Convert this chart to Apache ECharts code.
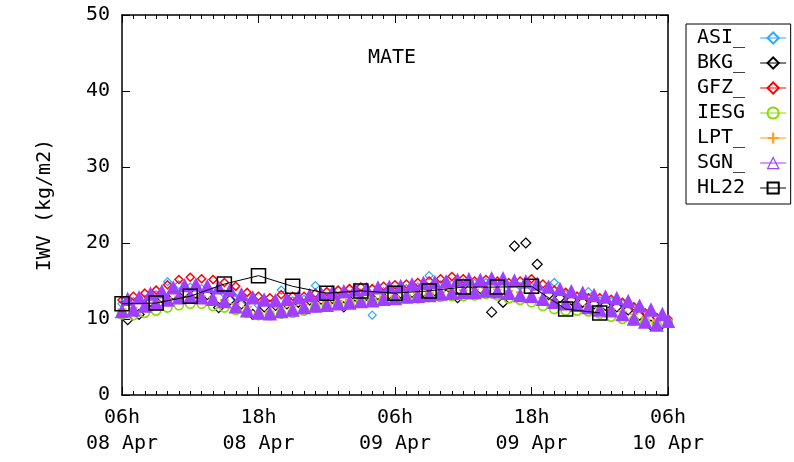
<!DOCTYPE html>
<html>
<head>
<meta charset="utf-8">
<script src="https://cdn.jsdelivr.net/npm/echarts@6/dist/echarts.min.js"></script>
<style>html,body{margin:0;padding:0;background:#fff}#c{width:794px;height:462px}</style>
</head>
<body>
<div id="c"></div>
<script>
// Time axis: hours after 06h 08 Apr
const xTickLabels = ['06h\n08 Apr', '18h\n08 Apr', '06h\n09 Apr', '18h\n09 Apr', '06h\n10 Apr'];
const seriesNames = ['ASI_', 'BKG_', 'GFZ_', 'IESG', 'LPT_', 'SGN_', 'HL22'];
const seriesColors = ['#2aa8ff', '#000000', '#ff0000', '#88dd00', '#ffa020', '#9f3fff', '#000000'];

// hourly, 0..48 h
const asi = [12.0,12.3,12.6,13.2,14.9,14.5,14.2,14.0,13.6,13.3,12.8,12.2,11.8,12.0,13.8,12.4,12.6,14.4,13.0,13.0,13.2,13.4,10.5,13.6,13.8,14.0,14.2,15.7,14.5,14.6,14.8,14.7,14.8,14.6,14.4,14.3,14.2,13.7,14.8,13.2,13.0,13.6,12.4,12.3,12.0,11.4,10.8,10.2,9.8];
// half-past each hour, 0.5..47.5 h
const bkg = [9.9,10.6,12.3,12.8,13.2,13.5,13.4,13.2,11.5,12.5,12.0,10.6,11.6,11.8,12.0,12.2,12.5,12.6,12.7,11.6,13.0,13.1,13.2,13.3,13.4,13.5,13.6,13.7,13.2,12.8,13.8,14.0,10.9,12.2,19.6,20.0,17.2,13.2,12.8,12.5,12.2,12.0,11.8,11.6,11.2,10.5,9.2,9.4];
// hourly, 0..48 h
const gfz = [12.5,13.0,13.4,13.8,14.5,15.2,15.5,15.3,15.2,14.8,14.3,13.5,13.0,12.8,13.2,13.0,13.0,13.4,13.6,13.8,14.0,14.2,14.0,14.3,14.5,14.6,14.8,15.0,15.3,15.6,15.3,15.0,15.2,15.0,14.8,15.0,15.3,14.6,13.8,13.5,13.0,12.8,12.8,12.6,12.2,11.6,10.8,10.2,10.0];
const iesg = [10.6,10.5,10.8,11.1,11.5,11.8,12.0,12.0,11.7,11.5,11.2,10.8,10.5,10.5,10.7,10.8,11.1,11.5,11.8,11.9,12.0,12.3,12.3,12.5,12.5,12.7,12.7,12.9,12.9,13.0,13.0,13.1,13.3,13.1,12.7,12.5,12.2,11.7,11.3,11.1,11.1,11.0,10.7,10.3,10.0,9.8,9.6,9.3,9.5];
const lpt = [11.3,11.5,12.0,12.3,12.8,13.0,13.0,13.0,12.8,12.5,12.0,11.6,10.8,11.0,11.5,11.7,11.9,12.1,12.2,12.4,12.5,12.7,12.8,13.0,13.0,13.2,13.4,13.5,13.6,13.8,13.8,13.9,14.0,13.9,13.7,13.5,13.4,12.8,12.4,12.0,11.9,11.8,11.5,11.3,11.0,10.6,10.2,9.8,9.6];
// every 30 min, 0..48 h
const sgn = [11.0,12.6,11.2,12.8,11.7,13.3,12.0,13.6,12.5,14.1,12.8,14.4,12.9,14.5,12.8,14.3,12.6,14.1,12.3,13.8,11.6,13.2,11.1,12.8,10.8,12.5,10.7,12.4,11.0,12.6,11.2,12.8,11.5,13.1,11.7,13.3,11.8,13.5,12.0,13.6,12.1,13.8,12.3,13.9,12.4,14.1,12.6,14.2,12.7,14.3,12.9,14.5,13.0,14.7,13.1,14.8,13.3,14.9,13.4,15.1,13.5,15.2,13.5,15.1,13.7,15.3,13.6,15.3,13.4,15.0,13.1,14.9,13.0,14.6,12.6,14.2,12.2,13.9,12.0,13.6,11.8,13.4,11.5,13.1,11.2,12.9,11.1,12.7,10.6,12.3,10.0,11.7,9.6,11.2,9.2,10.6,9.7];
// every 3 h, 0..42 h
const hl22 = [12.0,12.1,13.0,14.6,15.7,14.3,13.4,13.7,13.4,13.7,14.2,14.2,14.3,11.3,10.8];

const pairs = (vals, step, offset) => vals.map((v, i) => [offset + i * step, v]);

const FONT = 'DejaVu Sans Mono';
const openStyle = (c, w) => ({ color: 'rgba(0,0,0,0)', borderColor: c, borderWidth: w });
const plusPath = 'path://M4,0H6V4H10V6H6V10H4V6H0V4H4Z';

function dense(name, data, symbol, size, itemStyle, z) {
  return {
    name, type: 'line', data, symbol, symbolSize: size, showAllSymbol: true,
    lineStyle: { opacity: 0 }, itemStyle, z, silent: true
  };
}

const series = [
  dense('ASI_', pairs(asi, 1, 0), 'diamond', 8, openStyle(seriesColors[0], 1.2), 2),
  dense('BKG_', pairs(bkg, 1, 0.5), 'diamond', 10, openStyle(seriesColors[1], 1.2), 2),
  dense('GFZ_', pairs(gfz, 1, 0), 'diamond', 8, openStyle(seriesColors[2], 1.5), 2),
  dense('IESG', pairs(iesg, 1, 0), 'circle', 9, openStyle(seriesColors[3], 1.6), 2),
  dense('LPT_', pairs(lpt, 1, 0), plusPath, 9, { color: seriesColors[4] }, 2),
  dense('SGN_', pairs(sgn, 0.5, 0), 'triangle', 12,
        { color: seriesColors[5], borderColor: seriesColors[5], borderWidth: 1.5 }, 2),
  {
    name: 'HL22', type: 'line', data: pairs(hl22, 3, 0), symbol: 'rect', symbolSize: 14,
    showAllSymbol: true, lineStyle: { color: '#000', width: 1 },
    itemStyle: openStyle('#000', 1.5), z: 3, silent: true
  }
];

const axisLineStyle = { color: '#000', width: 1.5 };
const xBase = {
  type: 'value', min: 0, max: 48, interval: 12,
  axisLine: { show: true, onZero: false, lineStyle: axisLineStyle },
  axisTick: { show: true, inside: true, length: 8, lineStyle: { color: '#000', width: 1 } },
  minorTick: { show: true, splitNumber: 12, length: 4, lineStyle: { color: '#000', width: 1 } },
  splitLine: { show: false }, minorSplitLine: { show: false }
};
const yBase = {
  type: 'value', min: 0, max: 50, interval: 10,
  axisLine: { show: true, onZero: false, lineStyle: axisLineStyle },
  axisTick: { show: true, inside: true, length: 8, lineStyle: { color: '#000', width: 1 } },
  splitLine: { show: false }
};

const option = {
  animation: false,
  backgroundColor: '#fff',
  textStyle: { fontFamily: FONT },
  title: {
    text: 'MATE', left: 363, top: 43,
    textStyle: { fontFamily: FONT, fontSize: 20, fontWeight: 'normal', color: '#000' }
  },
  grid: { left: 122, right: 126, top: 15, bottom: 67 },
  xAxis: [
    Object.assign({}, xBase, {
      position: 'bottom',
      axisLabel: {
        show: true, margin: 10, fontFamily: FONT, fontSize: 20, color: '#000', lineHeight: 26,
        formatter: v => xTickLabels[Math.round(v / 12)]
      }
    }),
    Object.assign({}, xBase, { position: 'top', axisLabel: { show: false } })
  ],
  yAxis: [
    Object.assign({}, yBase, {
      position: 'left',
      name: 'IWV (kg/m2)', nameLocation: 'middle', nameGap: 67,
      nameTextStyle: { fontFamily: FONT, fontSize: 20, color: '#000' },
      axisLabel: { show: true, margin: 12, fontFamily: FONT, fontSize: 20, color: '#000' }
    }),
    Object.assign({}, yBase, { position: 'right', axisLabel: { show: false } })
  ],
  legend: {
    orient: 'vertical', left: 686, top: 24, align: 'right',
    padding: [4, 4, 6, 11], borderColor: '#000', borderWidth: 1,
    itemGap: 5, itemWidth: 26, itemHeight: 14,
    textStyle: { fontFamily: FONT, fontSize: 20, color: '#000', lineHeight: 20, padding: [0, 10, 0, 0] },
    data: seriesNames.map((n, i) => ({
      name: n,
      lineStyle: { color: seriesColors[i], width: 1, opacity: 1 },
      itemStyle: i === 5 ? { color: 'rgba(0,0,0,0)', borderColor: seriesColors[5], borderWidth: 1.2 } : undefined
    }))
  },
  series
};

const chart = echarts.init(document.getElementById('c'), null, { renderer: 'canvas' });
chart.setOption(option);
</script>
</body>
</html>
